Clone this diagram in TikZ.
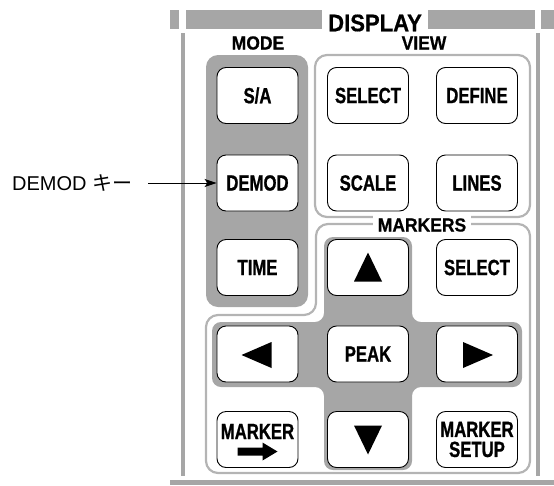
\documentclass[tikz,border=0pt]{standalone}
\usepackage{fontspec}
\setmainfont{Liberation Sans}
\newfontfamily\hdfont{Liberation Sans}[FakeStretch=0.92, FakeBold=0.6]
\newfontfamily\btnfont{Liberation Sans}[FakeStretch=0.76, FakeBold=0.9]
\newfontfamily\jpfont{Noto Sans CJK JP}
\usetikzlibrary{arrows.meta, positioning, calc}
\definecolor{panelgray}{HTML}{A6A6A6}
\definecolor{rimgray}{HTML}{B4B4B4}

\begin{document}
\begin{tikzpicture}[x=1pt, y=-1pt, >={Stealth[length=12pt, width=8pt, inset=3pt]},
  btn/.style={draw=black, line width=0.9pt, fill=white, rounded corners=9pt,
    minimum width=81pt, minimum height=56pt, inner sep=0pt, align=center,
    font=\btnfont\bfseries\fontsize{22}{20}\selectfont},
  btntxt/.style={inner sep=0pt, font=\btnfont\bfseries\fontsize{22}{20}\selectfont},
  hdlbl/.style={inner sep=0pt, font=\hdfont\bfseries\fontsize{19}{19}\selectfont},
  rim/.style={draw=rimgray, line width=2.2pt, rounded corners=12pt}]

\useasboundingbox (0,0) rectangle (554,485);

% Frame bars
\fill[panelgray] (170,10) rectangle (179,29);
\fill[panelgray] (186,10) rectangle (322,29);
\fill[panelgray] (428,10) rectangle (535,29);
\fill[panelgray] (541,10) rectangle (554,29);
\fill[panelgray] (181,33) rectangle (185,476);
\fill[panelgray] (536,33) rectangle (540,476);
\fill[panelgray] (170,480) rectangle (554,485);
\node[inner sep=0pt, font=\hdfont\bfseries\fontsize{24}{24}\selectfont] (display) at (375,23) {DISPLAY};

% MODE panel
\fill[panelgray, rounded corners=12pt] (206,55) rectangle (308,307);
\node[hdlbl] (modelbl) at (258,43) {MODE};

% VIEW outline
\draw[rim] (315,55) rectangle (530,217);
\node[hdlbl] (viewlbl) at (424,43) {VIEW};

% MARKERS outline and cursor pad
\draw[rim] (206,315) -- (316,315) -- (316,224) -- (530,224) -- (530,473) -- (206,473) -- cycle;
\fill[panelgray, rounded corners=9pt] (324,237) -- (412,237) -- (412,322) -- (522,322)
  -- (522,387) -- (412,387) -- (412,470) -- (324,470) -- (324,387) -- (212,387)
  -- (212,322) -- (324,322) -- cycle;
\node[hdlbl, fill=white, inner sep=5pt] (markerslbl) at (422,225) {MARKERS};

% Keys
\node[btn] (sa) at (257.5,95.5) {S/A};
\node[btn] (demod) at (257.5,183) {DEMOD};
\node[btn] (time) at (257.5,267.5) {TIME};
\node[btn] (vselect) at (368,95.5) {SELECT};
\node[btn] (define) at (477,95.5) {DEFINE};
\node[btn] (scale) at (368,183) {SCALE};
\node[btn] (lines) at (477,183) {LINES};
\node[btn] (up) at (368,267.5) {};
\node[btn] (mselect) at (477,267.5) {SELECT};
\node[btn] (left) at (257.5,354) {};
\node[btn] (peak) at (368,354) {PEAK};
\node[btn] (right) at (477,354) {};
\node[btn] (mkr) at (257.5,439.5) {};
\node[btn] (down) at (368,439.5) {};
\node[btn] (mkrsetup) at (477,439.5) {MARKER\\SETUP};

% Key glyphs
\fill ($(up)+(0,-15)$) -- ++(14,29) -- ++(-28,0) -- cycle;
\fill ($(down)+(0,15)$) -- ++(14,-29) -- ++(-28,0) -- cycle;
\fill ($(left)+(-16,1)$) -- ++(30,-13) -- ++(0,26) -- cycle;
\fill ($(right)+(16,1)$) -- ++(-30,-13) -- ++(0,26) -- cycle;
\node[btntxt] (mkrtxt) at ($(mkr)+(0,-8)$) {MARKER};
\fill ($(mkr)+(-20,8)$) -- ++(25,0) -- ++(0,-5) -- ++(15,9) -- ++(-15,9)
  -- ++(0,-5) -- ++(-25,0) -- cycle;

% Callout
\node[anchor=base west, inner sep=0pt, font=\fontsize{20}{20}\selectfont] (demodlbl) at (12,190.5)
  {DEMOD {\jpfont キー}};
\draw[->, line width=1pt, shorten <=16pt] (demodlbl.east |- demod.west) -- (demod.west);

\end{tikzpicture}
\end{document}
